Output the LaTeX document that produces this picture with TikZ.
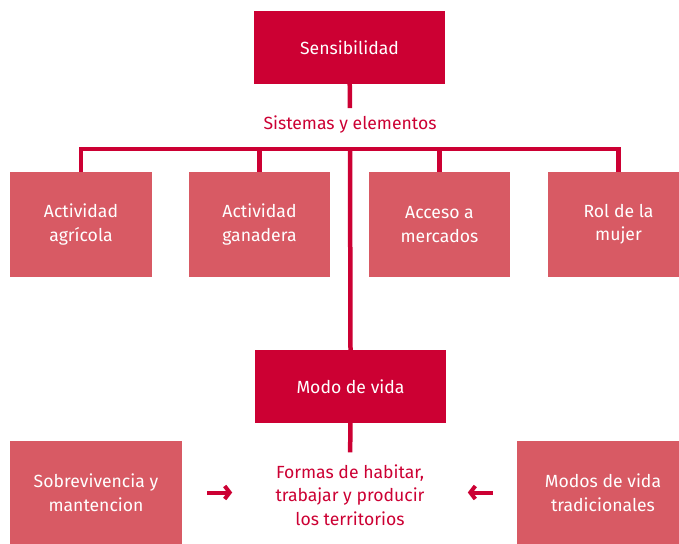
\documentclass[tikz,border=0pt]{standalone}
\usepackage{fontspec}
\setmainfont{Fira Sans}
\usepackage{tikz}
\usetikzlibrary{shapes,arrows.meta,calc}
\definecolor{crimson}{RGB}{204,0,51}
\definecolor{rosy}{RGB}{216,90,100}
\tikzstyle{line} = [draw=crimson, line width=4.5bp]
\tikzstyle{arr} = [draw=crimson, line width=4bp, -{Straight Barb[length=5bp,width=13bp]}]
\tikzstyle{mainbox} = [fill=crimson, text=white, rectangle, text centered, minimum width=191bp, minimum height=73bp]
\tikzstyle{subbox} = [fill=rosy, text=white, rectangle, align=center, minimum width=141bp, minimum height=105bp]
\tikzstyle{sidebox} = [fill=rosy, text=white, rectangle, align=center, minimum width=172bp, minimum height=103bp]
\tikzstyle{label} = [text=crimson, align=center]

\begin{document}
\begin{tikzpicture}[x=1bp, y=-1bp, font=\fontsize{17.6bp}{23.5bp}\selectfont]
        \useasboundingbox (0,0) rectangle (679,544);
        \clip (0,0) rectangle (679,544);
        \node[mainbox] (sens) at (349.5,47.5) {Sensibilidad};
        \node[label, inner ysep=8bp] (sistemas) at (350,125) {Sistemas y elementos};
        \node[subbox] (agri) at (81,224.5) {Actividad\\agrícola};
        \node[subbox] (gana) at (259.5,224.5) {Actividad\\ganadera};
        \node[subbox] (acceso) at (439.5,224.5) {Acceso a\\mercados};
        \node[subbox] (rol) at (618.5,224.5) {Rol de la\\mujer};
        \node[mainbox] (modo) at (350.5,386.5) {Modo de vida};
        \node[label, inner ysep=12bp, inner xsep=0pt] (formas) at (350,495) {Formas de habitar,\\trabajar y producir\\los territorios};
        \node[sidebox] (sobre) at (96,492.5) {Sobrevivencia y\\mantencion};
        \node[sidebox] (trad) at (603,492.5) {Modos de vida\\tradicionales};
        \coordinate (bar) at (350,149);
        \path[line] (sens) -- (sistemas);
        \path[line] (agri.north) -- (agri.north |- bar) -- (rol.north |- bar) -- (rol.north);
        \path[line] (gana.north) -- (gana.north |- bar);
        \path[line] (acceso.north) -- (acceso.north |- bar);
        \path[line] (bar) -- (modo.north);
        \path[line] (modo) -- (formas);
        \path[arr] ([xshift=25bp]sobre.east) -- ([xshift=50bp]sobre.east);
        \path[arr] ([xshift=-24bp]trad.west) -- ([xshift=-49bp]trad.west);
    \end{tikzpicture}
\end{document}
